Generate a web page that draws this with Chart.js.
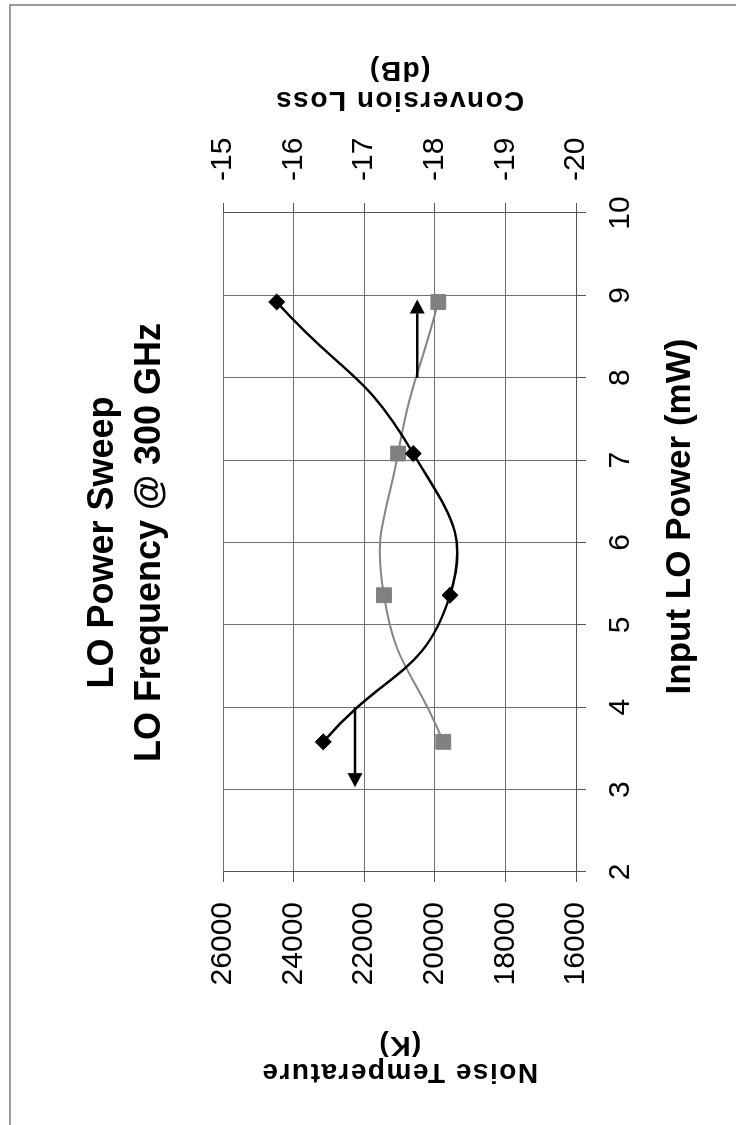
<!DOCTYPE html>
<html>
<head>
<meta charset="utf-8">
<title>LO Power Sweep</title>
<script src="https://cdn.jsdelivr.net/npm/chart.js@4.4.1/dist/chart.umd.min.js"></script>
<style>
    html, body { margin: 0; padding: 0; background: #fff; }
    body { width: 736px; height: 1125px; overflow: hidden; position: relative; }
    /* la gráfica original es apaisada y está girada 90° a la izquierda */
    #marco {
        position: absolute; left: 0; top: 0;
        width: 1125px; height: 736px;
        transform-origin: 0 0;
        transform: translate(0, 1125px) rotate(-90deg);
    }
</style>
</head>
<body>
<div id="marco"><canvas id="barridoChart" width="1125" height="736"></canvas></div>
<script>
// Datos
const potenciaLO = [3.58, 5.36, 7.08, 8.92];            // mW
const temperaturaRuido = [23160, 19570, 20610, 24480];   // K
const perdidaConversion = [-18.12, -17.28, -17.48, -18.05]; // dB

const ticksPotencia = [2, 3, 4, 5, 6, 7, 8, 9, 10];
const ticksRuido = [16000, 18000, 20000, 22000, 24000, 26000];
const ticksPerdida = [-20, -19, -18, -17, -16, -15];

// Flechas que indican a qué eje corresponde cada curva
const flechaRuidoX = [4.0, 3.03];
const flechaRuidoY = 22260;
const flechaPerdidaX = [8.0, 8.95];
const flechaPerdidaY = -17.75;

const FUENTE = "'Liberation Sans', Arial, sans-serif";

document.addEventListener('DOMContentLoaded', function() {
    inicializarGrafica();
});

function fijarTicks(lista) {
    return function(scale) {
        scale.ticks = lista.map(v => ({ value: v }));
    };
}

function dibujarFlecha(ctx, x0, y0, x1, y1) {
    const ang = Math.atan2(y1 - y0, x1 - x0);
    const largo = 14, ancho = 7.5;
    const bx = x1 - Math.cos(ang) * largo;
    const by = y1 - Math.sin(ang) * largo;
    ctx.beginPath();
    ctx.moveTo(x0, y0);
    ctx.lineTo(bx, by);
    ctx.stroke();
    ctx.beginPath();
    ctx.moveTo(x1, y1);
    ctx.lineTo(bx - Math.sin(ang) * ancho, by + Math.cos(ang) * ancho);
    ctx.lineTo(bx + Math.sin(ang) * ancho, by - Math.cos(ang) * ancho);
    ctx.closePath();
    ctx.fill();
}

function tituloEje(ctx, lineas, u, paso, v) {
    ctx.save();
    ctx.fillStyle = '#000';
    ctx.font = 'bold 28px ' + FUENTE;
    ctx.letterSpacing = '1.5px';
    ctx.textAlign = 'center';
    ctx.textBaseline = 'middle';
    lineas.forEach(function(texto, i) {
        ctx.save();
        ctx.translate(u + i * paso, v);
        ctx.rotate(-Math.PI / 2);
        ctx.fillText(texto, 0, 0);
        ctx.restore();
    });
    ctx.restore();
}

const extras = {
    id: 'extras',
    beforeDraw(chart) {
        const c = chart.ctx;
        c.save();
        c.fillStyle = '#fff';
        c.fillRect(0, 0, chart.width, chart.height);
        c.strokeStyle = '#7a7a7a';
        c.lineWidth = 1.5;
        c.beginPath();
        c.moveTo(0, 10);
        c.lineTo(1120, 10);
        c.lineTo(1120, chart.height);
        c.stroke();
        c.restore();
    },
    afterDatasetsDraw(chart) {
        const c = chart.ctx;
        const { x, y, y2 } = chart.scales;
        c.save();
        c.strokeStyle = '#000';
        c.fillStyle = '#000';
        c.lineWidth = 2.5;
        const yr = y.getPixelForValue(flechaRuidoY);
        dibujarFlecha(c, x.getPixelForValue(flechaRuidoX[0]), yr, x.getPixelForValue(flechaRuidoX[1]), yr);
        const yp = y2.getPixelForValue(flechaPerdidaY);
        dibujarFlecha(c, x.getPixelForValue(flechaPerdidaX[0]), yp, x.getPixelForValue(flechaPerdidaX[1]), yp);
        c.restore();
    },
    afterDraw(chart) {
        const c = chart.ctx;
        const area = chart.chartArea;
        const medio = (area.top + area.bottom) / 2;
        tituloEje(c, ['Noise Temperature', '(K)'], area.left - 200, 27, medio);
        tituloEje(c, ['Conversion Loss', '(dB)'], area.right + 113, 30, medio);
        // título del eje X, algo desplazado hacia la derecha como en el original
        c.save();
        c.fillStyle = '#000';
        c.font = 'bold 35px ' + FUENTE;
        c.textAlign = 'center';
        c.textBaseline = 'middle';
        c.fillText('Input LO Power (mW)', (area.left + area.right) / 2 + 26, area.bottom + 104);
        c.restore();
    }
};

function inicializarGrafica() {
    const ctx = document.getElementById('barridoChart').getContext('2d');
    const rejilla = { color: '#707070', lineWidth: 1, tickLength: 10, tickColor: '#555' };
    const borde = { color: '#555', width: 1 };
    const fuenteTicks = { family: FUENTE, size: 30 };
    const sinComas = v => String(v);

    new Chart(ctx, {
        type: 'line',
        data: {
            datasets: [{
                label: 'Noise Temperature',
                data: potenciaLO.map((p, i) => ({ x: p, y: temperaturaRuido[i] })),
                yAxisID: 'y',
                borderColor: '#000',
                borderWidth: 2.5,
                pointStyle: 'rectRot',
                pointRadius: 8,
                pointBackgroundColor: '#000',
                pointBorderColor: '#000',
                pointBorderWidth: 1,
                tension: 0.5,
                fill: false
            }, {
                label: 'Conversion Loss',
                data: potenciaLO.map((p, i) => ({ x: p, y: perdidaConversion[i] })),
                yAxisID: 'y2',
                borderColor: '#858585',
                borderWidth: 2,
                pointStyle: 'rect',
                pointRadius: 10.5,
                pointBackgroundColor: '#808080',
                pointBorderColor: '#808080',
                pointBorderWidth: 1,
                tension: 0.5,
                fill: false
            }]
        },
        options: {
            responsive: false,
            animation: false,
            devicePixelRatio: 1,
            layout: { padding: { top: 10, left: 0, right: 0, bottom: 0 } },
            plugins: {
                legend: { display: false },
                tooltip: { enabled: false },
                title: {
                    display: true,
                    fullSize: false,
                    text: ['LO Power Sweep', 'LO Frequency @ 300 GHz'],
                    color: '#000',
                    font: { family: FUENTE, size: 36, weight: 'bold', lineHeight: 1.32 },
                    padding: { top: 69, bottom: 49 }
                }
            },
            scales: {
                x: {
                    type: 'linear',
                    position: 'bottom',
                    min: 2,
                    max: 10,
                    afterBuildTicks: fijarTicks(ticksPotencia),
                    afterFit: s => { s.height = 160; },
                    grid: rejilla,
                    border: borde,
                    ticks: { color: '#000', font: fuenteTicks, padding: 17, callback: sinComas }
                },
                y: {
                    type: 'linear',
                    position: 'left',
                    min: 16000,
                    max: 26000,
                    afterBuildTicks: fijarTicks(ticksRuido),
                    afterFit: s => { s.width = 253; },
                    grid: rejilla,
                    border: borde,
                    ticks: { color: '#000', font: fuenteTicks, padding: 20, callback: sinComas }
                },
                y2: {
                    type: 'linear',
                    position: 'right',
                    min: -20,
                    max: -15,
                    afterBuildTicks: fijarTicks(ticksPerdida),
                    afterFit: s => { s.width = 213; },
                    grid: { drawOnChartArea: false, tickLength: 10, tickColor: '#555' },
                    border: borde,
                    ticks: { color: '#000', font: fuenteTicks, padding: 22, callback: sinComas }
                }
            }
        },
        plugins: [extras]
    });
}
</script>
</body>
</html>
